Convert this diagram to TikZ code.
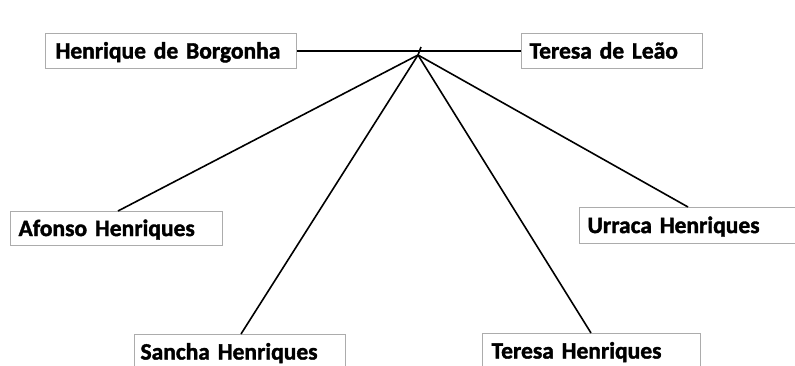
\documentclass[tikz,border=0pt]{standalone}
\usepackage{fontspec}
\setmainfont{Carlito}[BoldFeatures={FakeBold=1.6}]
\begin{document}
\begin{tikzpicture}[x=1pt,y=-1pt,
  person/.style={draw=gray!65, line width=1.1pt, fill=white, anchor=north west,
    minimum height=35pt, inner xsep=8pt, inner ysep=0pt, text height=15pt, text depth=0pt,
    align=left, font=\fontsize{23.5}{28}\selectfont\bfseries},
  link/.style={line width=1.6pt, black}]
\useasboundingbox (0,0) rectangle (795,365);
\clip (0,0) rectangle (795,365);
\fill[white] (0,0) rectangle (795,365);
\node[person, inner xsep=10pt, text width=231pt] (hb) at (45,33) {Henrique de Borgonha};
\node[person, text width=165pt] (tl) at (521,33) {Teresa de Leão};
\node[person, text width=196pt, minimum height=34pt] (af) at (10,211) {Afonso Henriques};
\node[person, inner xsep=6pt, text width=199pt] (sa) at (134,334) {Sancha Henriques};
\node[person, text width=215pt, minimum height=36pt] (ur) at (579,207) {Urraca Henriques};
\node[person, inner xsep=9pt, text width=200pt] (th) at (482,333) {Teresa Henriques};
\coordinate (apex) at (418,55);
\coordinate (tick) at (421,47);
\draw[link] (hb.east) -- (tl.west);
\draw[link] (apex) -- (tick);
\draw[link] (apex) -- ([xshift=108pt]af.north west);
\draw[link] (apex) -- ([xshift=107pt]sa.north west);
\draw[link] (apex) -- ([xshift=109pt]ur.north west);
\draw[link] (apex) -- ([xshift=109pt]th.north west);
\end{tikzpicture}
\end{document}
